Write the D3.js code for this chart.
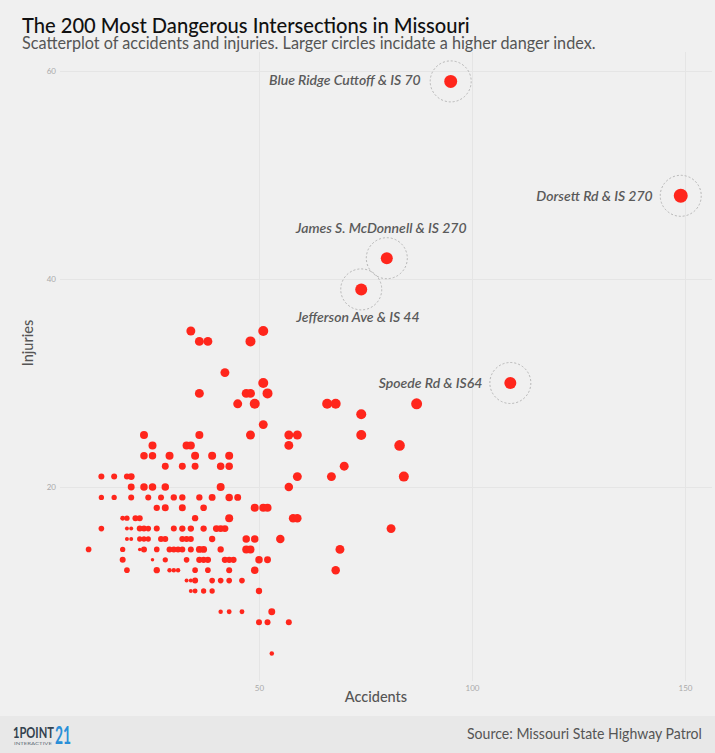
<!DOCTYPE html>
<html><head><meta charset="utf-8">
<script src="https://cdn.jsdelivr.net/npm/d3@7"></script>
<style>html,body{margin:0;padding:0;background:#f0f0f0}svg{display:block}text{font-family:Lato,sans-serif}</style>
</head><body><svg id="c" width="715" height="753"></svg>
<script>
const rowInjuries=[35,34,31,30,29,28,27,26,25,24,23,22,21,20,19,18,17,16,15,14,13,12,11,10,8,7,4];
const rowAccidents=[
[34,51],[36,38,48],[42],[51],[36,47,48,52],[45,49,66,68,87],[74],[51],
[23,36,48,57,59,74],[25,33,34,57,83],[23,25,29,35,39,43],[28,32,35,41,43,70],
[13,16,19,20,59,67,84],[20,23,25,28,41,57],[13,16,20,24,27,30,32,36,39,43,45],
[26,28,32,37,49,51,52],[18,19,21,22,35,43,58,59],
[13,19,20,22,23,24,26,30,32,34,37,40,41,42,81],
[19,20,22,23,24,27,28,32,33,34,39,47,49,55],
[10,18,22,23,26,29,30,31,32,34,36,37,41,47,48,69],
[18,25,28,33,36,37,38,42,43,44,50,52],[19,26,29,30,31,35,38,43,49,68],
[33,34,35,39,41,43,46],[34,35,37,39,50],[41,43,46,53],[50,52,57],[53]];
const rowDanger=[
[20,25],[20,20,25],[20],[25],[20,20,20,25],[20,25,25,25,30],[25],[20],
[16,16,20,20,20,25],[16,16,16,20,28],[14,14,16,16,16,16],[12,12,12,14,14,20],
[9,9,9,12,20,20,25],[12,14,14,14,16,18],[7,7,9,9,9,10,10,10,12,14,12],
[10,12,12,11,16,16,16],[6,7,9,9,10,16,18,18],
[8,4,4,9,9,8,9,9,10,10,10,12,12,12,20],
[4,4,7,7,7,9,9,9,9,9,10,14,14,18],
[8,7,3,9,8,9,9,9,9,9,12,12,10,16,16,20],
[9,3,7,8,10,10,10,10,10,10,14,12],[8,10,5,5,5,8,8,9,14,18],
[4,4,9,8,8,8,8],[4,6,7,7,10],[5,6,6,12],[9,9,9],[5]];
const hotNames=["Blue Ridge Cuttoff & IS 70","Dorsett Rd & IS 270","James S. McDonnell & IS 270","Jefferson Ave & IS 44","Spoede Rd & IS64"];
const hotAccidents=[95,149,80,74,109];
const hotInjuries=[59,48,42,39,30];
const hotDanger=[42,49,36,36,36];
const xTicks=[50,100,150];
const yTicks=[20,40,60];

const svg=d3.select("#c");
svg.append("rect").attr("width",715).attr("height",753).attr("fill","#f0f0f0");
const x=d3.scaleLinear().domain([50,150]).range([259,685]);
const y=d3.scaleLinear().domain([20,60]).range([487,71]);
const r=d3.scaleSqrt().domain([0,49]).range([0,7]);

const gx=svg.append("g").attr("transform","translate(0,681)")
 .call(d3.axisBottom(x).tickValues(xTicks).tickSize(-629).tickPadding(4).tickFormat(d3.format("d")));
const gy=svg.append("g").attr("transform","translate(60,0)")
 .call(d3.axisLeft(y).tickValues(yTicks).tickSize(-652).tickPadding(4).tickFormat(d3.format("d")));
[gx,gy].forEach(g=>{g.select(".domain").remove();
 g.selectAll("line").attr("stroke","#e5e5e5").attr("stroke-width",1);
 g.selectAll("text").attr("fill","#aaa").style("font-family","Lato,sans-serif").style("font-size","8px");});

const pts=rowInjuries.flatMap((inj,i)=>rowAccidents[i].map((a,j)=>({a,inj,d:rowDanger[i][j]})));
svg.append("g").selectAll("circle").data(pts).join("circle")
 .attr("cx",d=>x(d.a)).attr("cy",d=>y(d.inj)).attr("r",d=>r(d.d)).attr("fill","#ff261c");

const hot=hotNames.map((n,i)=>({n,a:hotAccidents[i],inj:hotInjuries[i],d:hotDanger[i]}));
svg.append("g").selectAll("circle").data(hot).join("circle")
 .attr("cx",d=>x(d.a)).attr("cy",d=>y(d.inj)).attr("r",20.5).attr("fill","none")
 .attr("stroke","#b5b5b5").attr("stroke-width",1).attr("stroke-dasharray","2 2");
svg.append("g").selectAll("circle").data(hot).join("circle")
 .attr("cx",d=>x(d.a)).attr("cy",d=>y(d.inj)).attr("r",d=>r(d.d)).attr("fill","#ff261c");

const labelPlace=[{dx:-30,dy:4,anchor:"end"},{dx:-28,dy:5,anchor:"end"},{dx:-91,dy:-25,anchor:"start"},{dx:-65,dy:33,anchor:"start"},{dx:-28,dy:5,anchor:"end"}];
svg.append("g").selectAll("text").data(hot).join("text")
 .attr("x",(d,i)=>x(d.a)+labelPlace[i].dx).attr("y",(d,i)=>y(d.inj)+labelPlace[i].dy)
 .attr("text-anchor",(d,i)=>labelPlace[i].anchor)
 .attr("fill","#5a5a5a").style("font-style","italic").style("font-weight",600).style("font-size","14px").text(d=>d.n);

function fit(px,py,w,size,weight,fill,str){
 const t=svg.append("text").attr("fill",fill).style("font-size",size+"px").style("font-weight",weight).text(str);
 const k=w/t.node().getComputedTextLength();
 t.attr("transform",`translate(${px},${py}) scale(${k},1)`);
 return t;
}
fit(22,32.5,448,21.5,500,"#111","The 200 Most Dangerous Intersections in Missouri");
fit(22,49,574,16.5,400,"#555","Scatterplot of accidents and injuries. Larger circles incidate a higher danger index.");
svg.append("text").attr("x",376).attr("y",702).attr("text-anchor","middle").attr("fill","#555").style("font-size","14.5px").style("font-weight",500).text("Accidents");
svg.append("text").attr("transform","translate(33,343) rotate(-90)").attr("text-anchor","middle").attr("fill","#555").style("font-size","14.5px").style("font-weight",500).text("Injuries");

svg.append("rect").attr("y",716).attr("width",715).attr("height",37).attr("fill","#e8e8e8");
fit(467,739,235,15.5,400,"#555","Source: Missouri State Highway Patrol");
fit(13,738,41,15,700,"#33424f","1POINT");
fit(55,744,16,24,700,"#2a8fd8","21");
fit(14,745,38,3.5,400,"#66727c","INTERACTIVE");
</script></body></html>
